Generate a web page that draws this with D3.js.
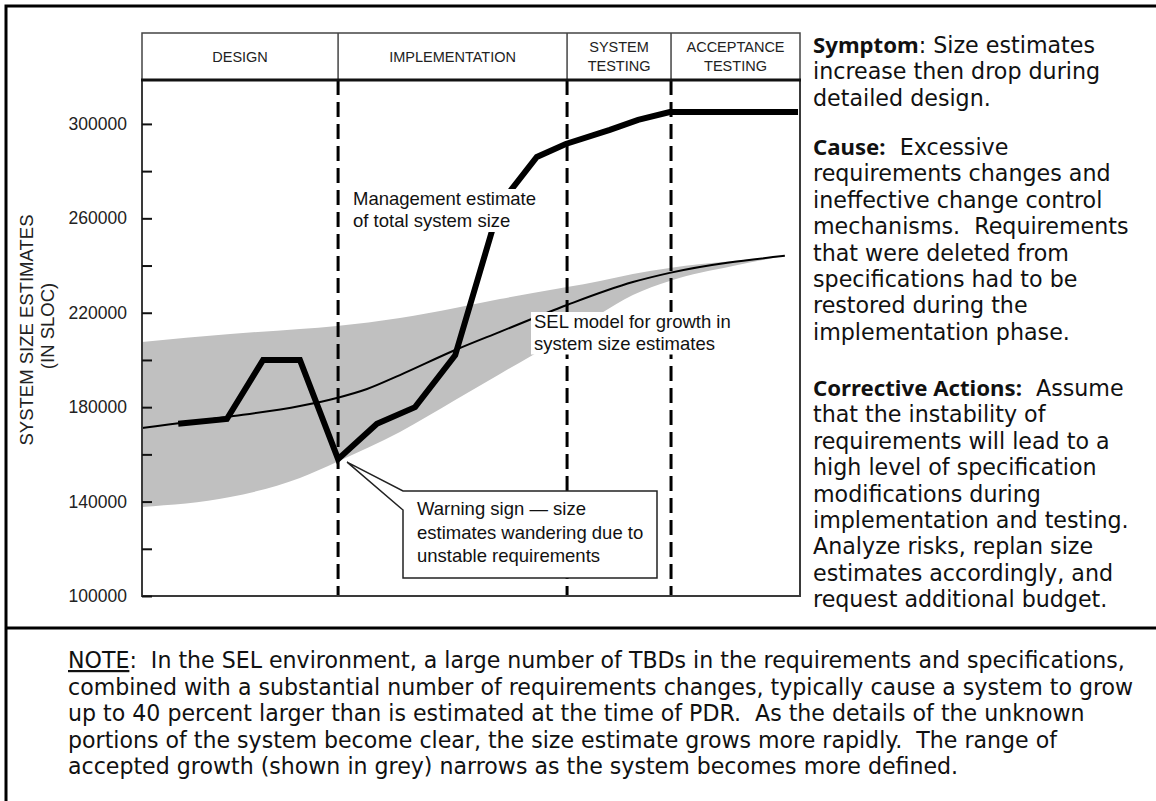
<!DOCTYPE html>
<html>
<head>
<meta charset="utf-8">
<script src="https://cdn.jsdelivr.net/npm/d3@7"></script>
<style>
body { margin: 0; background: #fff; }
svg { display: block; }
</style>
</head>
<body>
<svg class="chart" width="1156" height="801"></svg>
<script>
"use strict";

// project phases, time in percent of schedule
var phaseNames = [["DESIGN"], ["IMPLEMENTATION"], ["SYSTEM", "TESTING"], ["ACCEPTANCE", "TESTING"]];
var phaseEnds = [29.8, 64.6, 80.4, 100];

// management estimate of total system size (thick line)
var mgmtTime = [5.5, 12.9, 18.4, 24.0, 29.8, 35.7, 41.5, 47.6, 54.4, 60.0, 64.4, 71.1, 75.4, 80.2, 99.7];
var mgmtSize = [173000, 175000, 200000, 200000, 158000, 173000, 180000, 202000, 266000, 286000, 291500, 297500, 301700, 305000, 305000];

// SEL model for growth in system size estimates
var modelTime = [0, 12.9, 24.0, 29.6, 34.2, 39.2, 47.6, 54.4, 64.6, 74.6, 80.2, 97.7];
var modelSize = [171200, 175800, 180500, 183900, 187700, 193600, 204200, 211900, 223300, 233000, 236900, 244100];

// range of accepted growth (grey)
var bandTime = [0, 13.4, 24.0, 29.6, 39.2, 47.6, 54.4, 59.4, 64.6, 69.6, 74.6, 80.2, 89.8, 97.7];
var bandLow = [137700, 141900, 150000, 156800, 169500, 183000, 194100, 202100, 210600, 219500, 227500, 233500, 239800, 244100];
var bandHigh = [207600, 211000, 213100, 214400, 217800, 222000, 225800, 228400, 230900, 233500, 236400, 239000, 241900, 244100];

var yTicks = [100000, 120000, 140000, 160000, 180000, 200000, 220000, 240000, 260000, 280000, 300000];
var yLabels = [100000, 140000, 180000, 220000, 260000, 300000];

var symptomText = [["Symptom", ": Size estimates"], ["", "increase then drop during"], ["", "detailed design."]];
var causeText = [["Cause:", "  Excessive"], ["", "requirements changes and"], ["", "ineffective change control"],
    ["", "mechanisms.  Requirements"], ["", "that were deleted from"], ["", "specifications had to be"],
    ["", "restored during the"], ["", "implementation phase."]];
var actionText = [["Corrective Actions:", "  Assume"], ["", "that the instability of"], ["", "requirements will lead to a"],
    ["", "high level of specification"], ["", "modifications during"], ["", "implementation and testing."],
    ["", "Analyze risks, replan size"], ["", "estimates accordingly, and"], ["", "request additional budget."]];
var noteText = [
    ":  In the SEL environment, a large number of TBDs in the requirements and specifications,",
    "combined with a substantial number of requirements changes, typically cause a system to grow",
    "up to 40 percent larger than is estimated at the time of PDR.  As the details of the unknown",
    "portions of the system become clear, the size estimate grows more rapidly.  The range of",
    "accepted growth (shown in grey) narrows as the system becomes more defined."];

var svg = d3.select("svg.chart");
var plot = { left: 142, right: 800, top: 80, bottom: 596 };
var chartFont = "'Liberation Sans', Arial, sans-serif";
var textFont = "'DejaVu Sans', sans-serif";
var boldFont = "'Noto Sans', 'DejaVu Sans', sans-serif";

var x = d3.scaleLinear().domain([0, 100]).range([plot.left, plot.right]);
var y = d3.scaleLinear().domain([100000, 318600]).range([plot.bottom, plot.top]);

// outer frame
svg.append("path").attr("d", "M6,801 V6 H1156").attr("fill", "none").attr("stroke", "#000").attr("stroke-width", 3);
svg.append("line").attr("x1", 6).attr("x2", 1156).attr("y1", 628).attr("y2", 628).attr("stroke", "#000").attr("stroke-width", 3);

// grey band
var area = d3.area().curve(d3.curveMonotoneX).x(function (d, i) {
    return x(bandTime[i]);
}).y0(function (d, i) {
    return y(bandLow[i]);
}).y1(function (d, i) {
    return y(bandHigh[i]);
});
svg.append("path").datum(bandTime).attr("d", area).attr("fill", "#c0c0c0");

// SEL model line
var modelLine = d3.line().curve(d3.curveMonotoneX).x(function (d, i) {
    return x(modelTime[i]);
}).y(function (d, i) {
    return y(modelSize[i]);
});
svg.append("path").datum(modelTime).attr("d", modelLine).attr("fill", "none").attr("stroke", "#000").attr("stroke-width", 2);

// phase boundaries
svg.selectAll(".phase-line").data(phaseEnds.slice(0, -1)).enter().append("line").attr("class", "phase-line")
    .attr("x1", function (d) { return x(d); }).attr("x2", function (d) { return x(d); })
    .attr("y1", plot.top).attr("y2", plot.bottom)
    .attr("stroke", "#000").attr("stroke-width", 3).attr("stroke-dasharray", "15,7");

// plot frame
svg.append("rect").attr("x", plot.left).attr("y", plot.top).attr("width", plot.right - plot.left).attr("height", plot.bottom - plot.top)
    .attr("fill", "none").attr("stroke", "#3a3a3a").attr("stroke-width", 2);

// y axis
var yAxis = svg.append("g").attr("class", "axis axis--y").attr("transform", "translate(" + plot.left + ",0)")
    .call(d3.axisLeft(y).tickValues(yTicks).tickSizeInner(-10).tickSizeOuter(0).tickPadding(15).tickFormat(function (d) {
        return yLabels.indexOf(d) >= 0 ? String(d) : "";
    }));
yAxis.select(".domain").remove();
yAxis.selectAll(".tick line").attr("stroke", "#111").attr("stroke-width", 2);
yAxis.selectAll(".tick text").attr("font-family", chartFont).attr("font-size", 17.5).attr("fill", "#222");

var yTitle = svg.append("g").attr("font-family", chartFont).attr("font-size", 18.5).attr("fill", "#222").attr("text-anchor", "middle");
yTitle.append("text").attr("transform", "translate(33,330) rotate(-90)").text("SYSTEM SIZE ESTIMATES");
yTitle.append("text").attr("transform", "translate(54,326) rotate(-90)").text("(IN SLOC)");

// management estimate
var mgmtLine = d3.line().x(function (d, i) {
    return x(mgmtTime[i]);
}).y(function (d, i) {
    return y(mgmtSize[i]);
});
svg.append("path").datum(mgmtTime).attr("d", mgmtLine).attr("fill", "none").attr("stroke", "#000")
    .attr("stroke-width", 6).attr("stroke-linejoin", "miter").attr("stroke-miterlimit", 2);

// phase header
var header = svg.append("g");
header.append("rect").attr("x", plot.left).attr("y", 33).attr("width", plot.right - plot.left).attr("height", 47)
    .attr("fill", "#fff").attr("stroke", "#444").attr("stroke-width", 1.5);
header.selectAll(".divider").data(phaseEnds.slice(0, -1)).enter().append("line").attr("class", "divider")
    .attr("x1", function (d) { return x(d); }).attr("x2", function (d) { return x(d); })
    .attr("y1", 33).attr("y2", 80).attr("stroke", "#444").attr("stroke-width", 1.5);
header.append("line").attr("x1", plot.left - 1).attr("x2", plot.right + 1).attr("y1", 80).attr("y2", 80)
    .attr("stroke", "#111").attr("stroke-width", 3);
header.selectAll(".phase-name").data(phaseNames).enter().append("text").attr("class", "phase-name")
    .attr("font-family", chartFont).attr("font-size", 14.5).attr("fill", "#222").attr("text-anchor", "middle")
    .each(function (d, i) {
        var start = i === 0 ? 0 : phaseEnds[i - 1];
        var cx = (x(start) + x(phaseEnds[i])) / 2;
        var t = d3.select(this);
        d.forEach(function (line, j) {
            t.append("tspan").attr("x", cx).attr("y", d.length === 1 ? 62 : 52 + j * 18.5).text(line);
        });
    });

// labels on a white ground
function addLabel(lines, lx, ly, lh) {
    var g = svg.append("g");
    var bg = g.append("rect").attr("fill", "#fff");
    var t = g.append("text").attr("font-family", chartFont).attr("font-size", 18.5).attr("fill", "#111");
    lines.forEach(function (line, j) {
        t.append("tspan").attr("x", lx).attr("y", ly + j * lh).text(line);
    });
    var b = t.node().getBBox();
    bg.attr("x", b.x - 3).attr("y", b.y + 1).attr("width", b.width + 6).attr("height", b.height);
}
addLabel(["Management estimate", "of total system size"], 353, 205, 22);
addLabel(["SEL model for growth in", "system size estimates"], 534, 328, 21.5);

// callout for the warning sign
var tipX = x(mgmtTime[4]) + 9;
var tipY = y(mgmtSize[4]) + 3;
var box = { left: 403, top: 491, right: 657, bottom: 578 };
svg.append("path")
    .attr("d", "M" + tipX + "," + tipY + " L" + box.left + "," + box.top + " H" + box.right + " V" + box.bottom +
        " H" + box.left + " V" + (box.top + 19) + " Z")
    .attr("fill", "#fff").attr("stroke", "#222").attr("stroke-width", 1.5).attr("stroke-linejoin", "miter");
var warn = svg.append("text").attr("font-family", chartFont).attr("font-size", 18.5).attr("fill", "#111");
["Warning sign \u2014 size", "estimates wandering due to", "unstable requirements"].forEach(function (line, j) {
    warn.append("tspan").attr("x", box.left + 14).attr("y", 515 + j * 23.5).text(line);
});

// right-hand commentary
function addParagraph(lines, top) {
    var t = svg.append("text").attr("font-family", textFont).attr("font-size", 22.2).attr("fill", "#111")
        .style("white-space", "pre");
    lines.forEach(function (line, j) {
        var ts = t.append("tspan").attr("x", 813).attr("y", top + j * 26.4);
        if (line[0]) {
            ts.append("tspan").attr("font-family", boldFont).attr("font-weight", "bold").text(line[0]);
            t.append("tspan").text(line[1]);
        } else {
            ts.text(line[1]);
        }
    });
}
addParagraph(symptomText, 53);
addParagraph(causeText, 155);
addParagraph(actionText, 396);

// note at the bottom
var note = svg.append("text").attr("font-family", textFont).attr("font-size", 22.1).attr("fill", "#111").style("white-space", "pre");
noteText.forEach(function (line, j) {
    var ts = note.append("tspan").attr("x", 68).attr("y", 668 + j * 26.5);
    if (j === 0) {
        ts.append("tspan").style("text-decoration", "underline").text("NOTE");
        note.append("tspan").text(line);
    } else {
        ts.text(line);
    }
});
</script>
</body>
</html>
